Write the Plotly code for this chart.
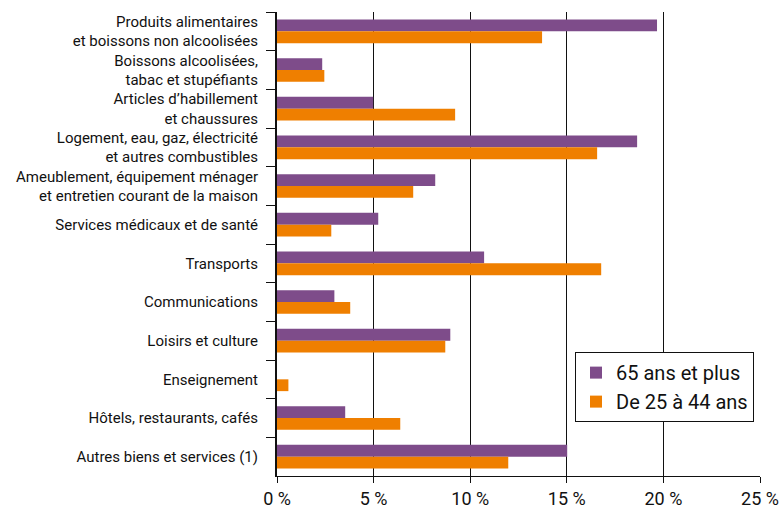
import plotly.graph_objects as go

categories = [
    "Produits alimentaires<br>et boissons non alcoolisées",
    "Boissons alcoolisées,<br>tabac et stupéfiants",
    "Articles d’habillement<br>et chaussures",
    "Logement, eau, gaz, électricité<br>et autres combustibles",
    "Ameublement, équipement ménager<br>et entretien courant de la maison",
    "Services médicaux et de santé",
    "Transports",
    "Communications",
    "Loisirs et culture",
    "Enseignement",
    "Hôtels, restaurants, cafés",
    "Autres biens et services (1)",
]
seniors = [19.67, 2.34, 4.98, 18.64, 8.19, 5.24, 10.72, 2.97, 8.97, 0.0, 3.53, 15.02]
young = [13.72, 2.45, 9.22, 16.57, 7.05, 2.81, 16.78, 3.79, 8.71, 0.59, 6.38, 11.97]
series_names = ["65 ans et plus", "De 25 à 44 ans"]
tick_vals = [0, 5, 10, 15, 20, 25]
tick_text = ["0 %", "5 %", "10 %", "15 %", "20 %", "25 %"]

PURPLE = "#7E4C8A"
ORANGE = "#EF7F00"
FONT = "Roboto, sans-serif"

fig = go.Figure()
fig.add_trace(go.Bar(y=categories, x=seniors, orientation="h", name=series_names[0],
                     marker=dict(color=PURPLE, line=dict(width=0))))
fig.add_trace(go.Bar(y=categories, x=young, orientation="h", name=series_names[1],
                     marker=dict(color=ORANGE, line=dict(width=0))))

fig.update_layout(
    template="none",
    width=781, height=512,
    margin=dict(l=277, r=21, t=12, b=36, autoexpand=False),
    paper_bgcolor="white", plot_bgcolor="white",
    barmode="group", bargap=0.39, bargroupgap=0,
    font=dict(family=FONT, color="#111111", size=15),
    showlegend=True,
    legend=dict(x=0.617, y=0.267, xanchor="left", yanchor="top",
                bordercolor="#111111", borderwidth=1, bgcolor="white",
                font=dict(size=20, family=FONT), traceorder="normal",
                itemsizing="constant", tracegroupgap=0),
)
fig.update_xaxes(range=[0, 25], tickvals=tick_vals, ticktext=tick_text,
                 showgrid=True, gridcolor="#111111", gridwidth=1,
                 showline=True, linecolor="#111111", linewidth=1,
                 ticks="outside", ticklen=6, tickcolor="#111111",
                 tickfont=dict(size=18, family=FONT), zeroline=False,
                 automargin=False, fixedrange=True)
fig.update_yaxes(autorange="reversed", showline=True, linecolor="#111111", linewidth=2,
                 ticks="outside", tickson="boundaries", ticklen=9, tickcolor="#111111",
                 tickfont=dict(size=15, family=FONT), showgrid=False,
                 ticklabelstandoff=14,
                 automargin=False, zeroline=False, fixedrange=True)

fig.write_html("out.html", config={"displayModeBar": False},
               post_script="document.body.style.margin='0px';document.body.style.padding='0px';")
